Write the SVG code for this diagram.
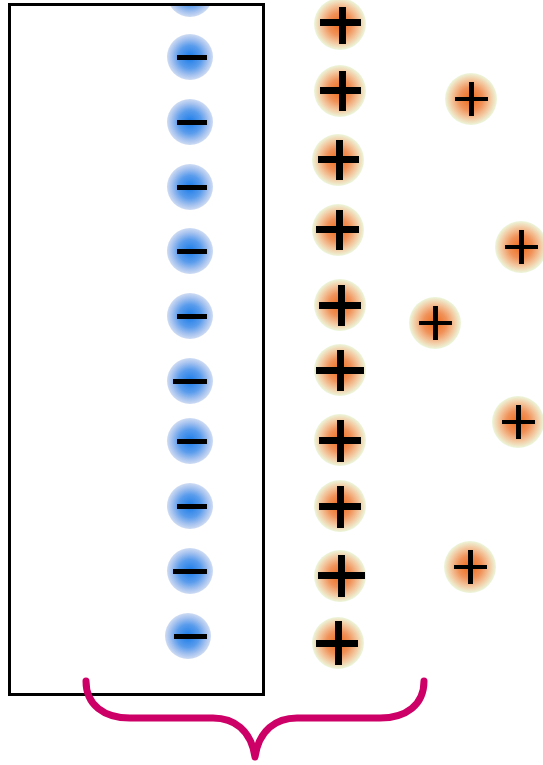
<svg xmlns="http://www.w3.org/2000/svg" width="543" height="765" viewBox="0 0 543 765">
<defs>
<radialGradient id="gb">
<stop offset="0" stop-color="#1a7ce8"/>
<stop offset="0.5" stop-color="#5a9cec"/>
<stop offset="0.8" stop-color="#a5c2ef"/>
<stop offset="1" stop-color="#cfdcf3"/>
</radialGradient>
<radialGradient id="go">
<stop offset="0" stop-color="#ee6a18"/>
<stop offset="0.45" stop-color="#f0925a"/>
<stop offset="0.75" stop-color="#f3c8a0"/>
<stop offset="1" stop-color="#ecf7dc"/>
</radialGradient>
<clipPath id="topclip"><rect x="0" y="6" width="543" height="30"/></clipPath>
<style>
.neg{fill:url(#gb)}
.pos{fill:url(#go)}
.bar{fill:#000}
.frame{fill:none;stroke:#000;stroke-width:3}
.brace{fill:none;stroke:#cc0066;stroke-width:7;stroke-linecap:round;stroke-linejoin:round}
</style>
</defs>
<rect width="543" height="765" fill="#fff"/>
<g id="negatives">
<g id="n0" clip-path="url(#topclip)"><circle class="neg" cx="190" cy="-6" r="23"/><rect class="bar" x="177" y="-8" width="30" height="5"/></g>
<g id="n1"><circle class="neg" cx="190" cy="57" r="23"/><rect class="bar" x="177" y="55" width="30" height="5"/></g>
<g id="n2"><circle class="neg" cx="190" cy="122" r="23"/><rect class="bar" x="177" y="120" width="30" height="5"/></g>
<g id="n3"><circle class="neg" cx="190" cy="187" r="23"/><rect class="bar" x="177" y="185" width="30" height="5"/></g>
<g id="n4"><circle class="neg" cx="190" cy="251" r="23"/><rect class="bar" x="177" y="249" width="30" height="5"/></g>
<g id="n5"><circle class="neg" cx="190" cy="316" r="23"/><rect class="bar" x="177" y="314" width="30" height="5"/></g>
<g id="n6"><circle class="neg" cx="190" cy="381" r="23"/><rect class="bar" x="173" y="379" width="34" height="5"/></g>
<g id="n7"><circle class="neg" cx="190" cy="441" r="23"/><rect class="bar" x="177" y="439" width="30" height="5"/></g>
<g id="n8"><circle class="neg" cx="190" cy="506" r="23"/><rect class="bar" x="177" y="504" width="30" height="5"/></g>
<g id="n9"><circle class="neg" cx="190" cy="571" r="23"/><rect class="bar" x="173" y="569" width="34" height="5"/></g>
<g id="n10"><circle class="neg" cx="188" cy="636" r="23"/><rect class="bar" x="174" y="634" width="33" height="5"/></g>
</g>
<g id="frame"><rect class="frame" x="9.5" y="4.5" width="254" height="690"/></g>
<g id="positives">
<g id="p1"><circle class="pos" cx="340" cy="24" r="26"/><rect class="bar" x="320" y="19" width="41" height="7"/><rect class="bar" x="339" y="7" width="7" height="37"/></g>
<g id="p2"><circle class="pos" cx="340" cy="91" r="26"/><rect class="bar" x="320" y="87" width="41" height="7"/><rect class="bar" x="339" y="71" width="7" height="40"/></g>
<g id="p3"><circle class="pos" cx="338" cy="160" r="26"/><rect class="bar" x="318" y="156" width="41" height="7"/><rect class="bar" x="336" y="140" width="7" height="40"/></g>
<g id="p4"><circle class="pos" cx="338" cy="230" r="26"/><rect class="bar" x="316" y="226" width="43" height="7"/><rect class="bar" x="336" y="210" width="7" height="40"/></g>
<g id="p5"><circle class="pos" cx="340" cy="305" r="26"/><rect class="bar" x="319" y="302" width="42" height="7"/><rect class="bar" x="338" y="285" width="7" height="41"/></g>
<g id="p6"><circle class="pos" cx="340" cy="370" r="26"/><rect class="bar" x="316" y="367" width="48" height="7"/><rect class="bar" x="337" y="350" width="7" height="41"/></g>
<g id="p7"><circle class="pos" cx="340" cy="440" r="26"/><rect class="bar" x="319" y="437" width="42" height="7"/><rect class="bar" x="337" y="420" width="7" height="42"/></g>
<g id="p8"><circle class="pos" cx="340" cy="506" r="26"/><rect class="bar" x="319" y="503" width="42" height="7"/><rect class="bar" x="337" y="486" width="7" height="42"/></g>
<g id="p9"><circle class="pos" cx="340" cy="576" r="26"/><rect class="bar" x="318" y="572" width="47" height="7"/><rect class="bar" x="338" y="555" width="7" height="42"/></g>
<g id="p10"><circle class="pos" cx="338" cy="643" r="26"/><rect class="bar" x="316" y="640" width="42" height="7"/><rect class="bar" x="335" y="621" width="7" height="44"/></g>
</g>
<g id="free">
<g id="f1"><circle class="pos" cx="471" cy="99" r="26"/><rect class="bar" x="455" y="97" width="33" height="4"/><rect class="bar" x="469" y="82" width="5" height="34"/></g>
<g id="f2"><circle class="pos" cx="521" cy="247" r="26"/><rect class="bar" x="505" y="245" width="33" height="4"/><rect class="bar" x="519" y="230" width="5" height="34"/></g>
<g id="f3"><circle class="pos" cx="435" cy="323" r="26"/><rect class="bar" x="419" y="321" width="33" height="4"/><rect class="bar" x="433" y="306" width="5" height="34"/></g>
<g id="f4"><circle class="pos" cx="518" cy="422" r="26"/><rect class="bar" x="502" y="420" width="33" height="4"/><rect class="bar" x="516" y="405" width="5" height="34"/></g>
<g id="f5"><circle class="pos" cx="470" cy="567" r="26"/><rect class="bar" x="454" y="565" width="33" height="4"/><rect class="bar" x="468" y="550" width="5" height="34"/></g>
</g>
<g id="connectors">
<path class="brace" d="M86,681 C86,705 104,718 130,718 L213,718 C234,718 251,730 255,757 C259,730 276,718 297,718 L380,718 C406,718 424,705 424,681"/>
</g>
</svg>
